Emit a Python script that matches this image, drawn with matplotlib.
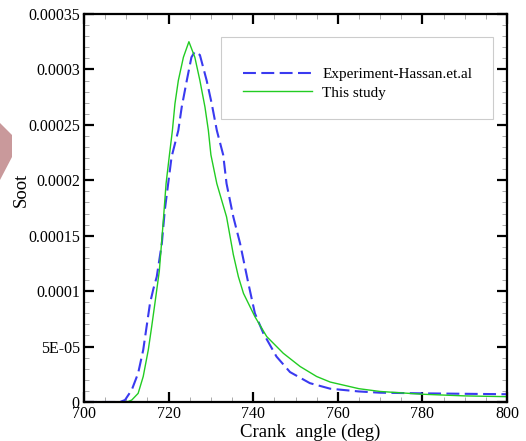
import numpy as np
import matplotlib
matplotlib.use('Agg')
import matplotlib.pyplot as plt
from matplotlib.patches import Polygon, Rectangle
from matplotlib.ticker import MultipleLocator

plt.rcParams['font.family'] = ['Liberation Serif', 'DejaVu Serif']

# ── data (soot in units of 1e-5) ────────────────────────────────────────────
exp_angle = [700, 708.5, 709.7, 711.3, 712.8, 714, 714.8, 715.6, 716.4, 717.2,
             718.4, 719.1, 719.9, 720.7, 722.3, 723.1, 724.3, 725.4, 726.2,
             727.4, 729, 730.2, 731.4, 732.9, 733.7, 735.3, 736.9, 738.8,
             740.4, 742.4, 745.5, 748.7, 753.4, 758.2, 765, 770, 780, 790, 800]
exp_soot = [0, 0, 0.18, 1.1, 2.6, 4.7, 6.8, 8.9, 10.2, 11.3,
            14.3, 17.3, 19.7, 22.1, 24.5, 26.6, 29.0, 31.1, 31.6,
            31.3, 29.0, 26.9, 24.5, 22.3, 19.7, 16.7, 14.3, 10.8,
            8.0, 6.2, 4.1, 2.7, 1.7, 1.2, 0.95, 0.84, 0.78, 0.74, 0.7]

sim_angle = [700, 709, 710.5, 711.3, 712.8, 714, 715.2, 716, 716.8, 717.8,
             718.7, 719.4, 720.2, 720.9, 721.5, 722.3, 723.5, 724.8, 726.2,
             727.4, 728.6, 729.4, 730.0, 731.4, 733.7, 735.3, 736.5, 737.7,
             740.4, 743.2, 747.1, 751.1, 755, 758.2, 765, 770, 780, 790, 800]
sim_soot = [0, 0, 0.05, 0.18, 0.78, 2.3, 4.7, 6.8, 9.0, 11.8,
            16.1, 19.7, 22.3, 24.5, 26.9, 29.0, 31.1, 32.5, 31.1,
            29.0, 26.6, 24.5, 22.3, 19.7, 16.7, 13.3, 11.3, 9.8,
            7.7, 5.9, 4.4, 3.2, 2.3, 1.8, 1.2, 0.95, 0.7, 0.55, 0.48]

x_ticks = [700, 720, 740, 760, 780, 800]
y_ticks = [0, 5e-5, 1e-4, 1.5e-4, 2e-4, 2.5e-4, 3e-4, 3.5e-4]
y_labels = ['0', '5E-05', '0.0001', '0.00015', '0.0002', '0.00025', '0.0003', '0.00035']

exp_soot = np.array(exp_soot) * 1e-5
sim_soot = np.array(sim_soot) * 1e-5

# ── figure ──────────────────────────────────────────────────────────────────
fig = plt.figure(figsize=(5.26, 4.41), dpi=100)
ax = fig.add_axes([84 / 526, 1 - 402 / 441, 423 / 526, 388 / 441])

# pink watermark fragment at the left edge of the screenshot
fig.patches.append(Polygon([(0, 1 - 123 / 441), (12 / 526, 1 - 135 / 441),
                            (12 / 526, 1 - 157 / 441), (0, 1 - 180 / 441)],
                           closed=True, transform=fig.transFigure,
                           facecolor='#c9999b', edgecolor='none'))

ax.plot(exp_angle, exp_soot, color='#3a3af0', lw=1.5, dashes=(6.2, 2.6),
        label='Experiment-Hassan.et.al')
ax.plot(sim_angle, sim_soot, color='#22cc22', lw=1.0, label='This study')

ax.set_xlim(700, 800)
ax.set_ylim(0, 3.5e-4)
ax.set_xticks(x_ticks)
ax.set_yticks(y_ticks)
ax.set_yticklabels(y_labels)
ax.xaxis.set_minor_locator(MultipleLocator(5))
ax.yaxis.set_minor_locator(MultipleLocator(1e-5))

ax.tick_params(which='both', direction='in', top=True, right=True,
               labelsize=11.5, colors='black')
ax.tick_params(which='major', length=7, width=1.6, pad=3)
ax.tick_params(which='minor', length=3.5, width=0.5, color='#888888')
for s in ax.spines.values():
    s.set_linewidth(1.6)

ax.set_xlabel('Crank  angle (deg)', fontsize=13.5, labelpad=0)
ax.xaxis.set_label_coords(0.534, -0.055)
ax.set_ylabel('Soot', fontsize=13.5)
ax.yaxis.set_label_coords(-0.128, 0.546)

# legend box drawn separately so the entries can sit inside it freely
ax.add_patch(Rectangle((0.324, 0.729), 0.643, 0.212, transform=ax.transAxes,
                       facecolor='white', edgecolor='#cccccc', lw=0.8,
                       zorder=3))
leg = ax.legend(loc='upper left', bbox_to_anchor=(0.376, 0.862),
                fontsize=11, frameon=False, handlelength=4.5,
                handletextpad=0.7, borderpad=0, labelspacing=0.3,
                borderaxespad=0)
leg.set_zorder(4)

plt.savefig('out.png', dpi=100)
plt.close()
